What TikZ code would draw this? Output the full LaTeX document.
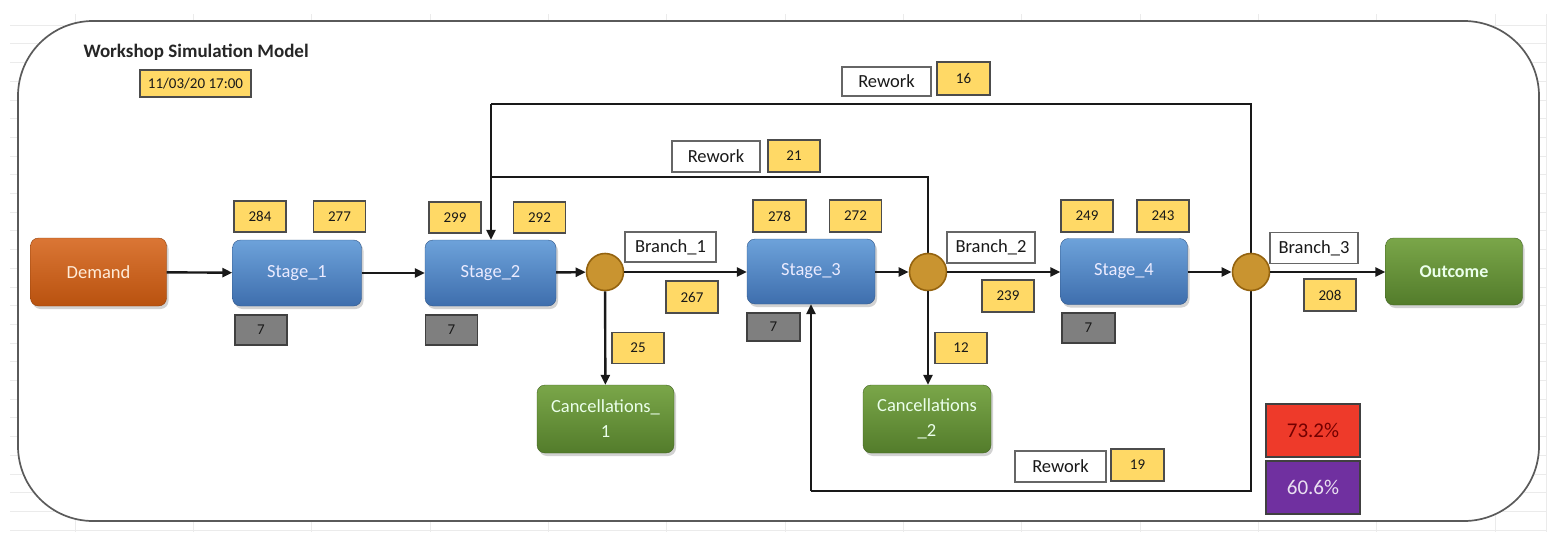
\documentclass[tikz,border=0pt]{standalone}
\usepackage{fontspec}
\setmainfont{Carlito}
\usetikzlibrary{arrows.meta,shadows,positioning}
\definecolor{bluetop}{HTML}{6DA2DA}
\definecolor{bluebot}{HTML}{3E6EAD}
\definecolor{orgtop}{HTML}{DA7635}
\definecolor{orgbot}{HTML}{B9520F}
\definecolor{grntop}{HTML}{7AA649}
\definecolor{grnbot}{HTML}{537C2B}
\definecolor{yel}{HTML}{FFD966}
\definecolor{gry}{HTML}{7F7F7F}
\definecolor{gold}{HTML}{C99430}
\definecolor{goldline}{HTML}{94630F}
\definecolor{redbox}{HTML}{EE3A2A}
\definecolor{purbox}{HTML}{7030A0}
\definecolor{frame}{HTML}{5A5A5A}
\begin{document}
\begin{tikzpicture}[x=1pt,y=-1pt,
  shp/.style={rounded corners=8pt,inner sep=2pt,align=center,
    drop shadow={shadow xshift=2pt,shadow yshift=-3pt,opacity=0.35},
    font=\fontsize{18.5}{20}\selectfont},
  stagebox/.style={shp,top color=bluetop,bottom color=bluebot,draw=bluebot!80!black,line width=0.4pt,
    text=white!92!blue,minimum width=129pt,minimum height=66pt},
  demandbox/.style={shp,top color=orgtop,bottom color=orgbot,draw=orgbot!80!black,line width=0.4pt,
    text=orange!15!white,minimum width=136pt,minimum height=68pt},
  grnbox/.style={shp,top color=grntop,bottom color=grnbot,draw=grnbot!80!black,line width=0.4pt,
    text=green!8!white,minimum height=68pt},
  junc/.style={circle,fill=gold,draw=goldline,line width=1.6pt,minimum size=37pt,inner sep=0pt},
  numbox/.style={rectangle,fill=yel,draw=black!70,line width=1.1pt,minimum width=52pt,minimum height=31pt,
    inner sep=0pt,text=black!90,font=\fontsize{15}{17}\selectfont},
  graybox/.style={rectangle,fill=gry,draw=black!75,line width=1.1pt,minimum width=52pt,minimum height=30pt,
    inner sep=0pt,text=black!90,font=\fontsize{15}{17}\selectfont},
  labbox/.style={rectangle,fill=white,draw=black!60,line width=1.1pt,minimum width=89pt,minimum height=30pt,
    inner sep=0pt,text=black!90,font=\fontsize{18.5}{20}\selectfont},
  pctbox/.style={rectangle,draw=black!75,line width=1.1pt,minimum width=94pt,minimum height=53pt,
    inner sep=0pt,font=\fontsize{21}{23}\selectfont},
  conn/.style={draw=black!90,line width=2.4pt},
  flow/.style={conn,-{Triangle[length=10pt,width=9pt]}}
]
\useasboundingbox (0,0) rectangle (1566,538);
\fill[white] (0,0) rectangle (1566,538);
% faint spreadsheet grid
\begin{scope}
\clip (10,14) rectangle (1547,532);
\foreach \xx in {75,193.3,311.6,430,548.3,666.6,785,903.3,1021.6,1140,1258.3,1376.6,1495,1546}
  \draw[black!8,line width=0.6pt] (\xx,14) -- (\xx,532);
\foreach \k in {0,...,27}
  \draw[black!8,line width=0.6pt] (10,25+18.7*\k) -- (1547,25+18.7*\k);
\end{scope}
% outer frame
\draw[frame,line width=1.7pt,fill=white,rounded corners=75pt] (18,21) rectangle (1539,521);

% title and date
\node[anchor=west,font=\bfseries\fontsize{19}{21}\selectfont,text=black!85] (title) at (80,52) {Workshop Simulation Model};
\node[numbox,minimum width=111pt,minimum height=27pt,font=\fontsize{15}{17}\selectfont] (date) at (195.5,83.5) {11/03/20 17:00};

% main nodes
\node[demandbox] (dem) at (98.5,272) {Demand};
\node[stagebox] (s1) at (297,273) {Stage\_1};
\node[stagebox,minimum width=131pt] (s2) at (490.5,273) {Stage\_2};
\node[stagebox,minimum width=128pt,minimum height=65pt] (s3) at (811,271.5) {Stage\_3};
\node[stagebox,minimum width=127pt] (s4) at (1124,271.5) {Stage\_4};
\node[grnbox,minimum width=137pt,minimum height=67pt,font=\bfseries\fontsize{18}{20}\selectfont] (out) at (1454,271.5) {Outcome};
\node[grnbox,minimum width=137pt,font=\fontsize{18.5}{25}\selectfont] (can1) at (605.5,419) {Cancellations\_\\1};
\node[grnbox,minimum width=128pt,font=\fontsize{18.5}{25}\selectfont] (can2) at (927,419) {Cancellations\\\_2};

% junction positions and loop corners
\coordinate (c1p) at (605,272);
\coordinate (c2p) at (928,272);
\coordinate (c3p) at (1251,272);
\coordinate (topR) at (1251,104);
\coordinate (topL) at (491,104);
\coordinate (midR) at (928,177);
\coordinate (midL) at (491,177);
\coordinate (botR) at (1251,491);
\coordinate (botL) at (811,491);

% loop connectors
\draw[conn] (c3p) -- (topR) -- (topL);
\draw[conn] (c2p) -- (midR) -- (midL);
\draw[flow] (topL) -- (topL |- s2.north);
\draw[conn] (c3p) -- (botR) -- (botL);
\draw[flow] (botL) -- (botL |- s3.south);

% junction nodes
\node[junc] (c1) at (c1p) {};
\node[junc] (c2) at (c2p) {};
\node[junc] (c3) at (c3p) {};

% main flow
\draw[flow] (dem) -- (s1);
\draw[flow] (s1) -- (s2);
\draw[flow] (s2) -- (c1);
\draw[flow] (c1) -- (s3.west |- c1);
\draw[flow] (s3.east |- c2) -- (c2);
\draw[flow] (c2) -- (s4.west |- c2);
\draw[flow] (s4.east |- c3) -- (c3);
\draw[flow] (c3) -- (out.west |- c3);
\draw[flow] (c1) -- (can1);
\draw[flow] (c2) -- (c2 |- can2.north);

% counts
\node[numbox] (n284) at (260,216.5) {284};
\node[numbox] (n277) at (339.5,216.5) {277};
\node[numbox] (n299) at (455,217.5) {299};
\node[numbox] (n292) at (539.5,217.5) {292};
\node[numbox,minimum width=53pt,minimum height=32pt] (n278) at (779.5,216) {278};
\node[numbox,minimum height=32pt] (n272) at (855.5,216) {272};
\node[numbox,minimum height=32pt] (n249) at (1087,216) {249};
\node[numbox,minimum height=32pt] (n243) at (1163,216) {243};
\node[numbox,minimum height=32pt] (n267) at (692,297) {267};
\node[numbox,minimum height=32pt] (n239) at (1008,296) {239};
\node[numbox,minimum height=32pt] (n208) at (1330,295) {208};
\node[numbox] (n25) at (638,348) {25};
\node[numbox] (n12) at (961,348) {12};
\node[numbox,minimum height=32pt] (n21) at (794,156) {21};
\node[numbox,minimum width=53pt,minimum height=33pt] (n16) at (963.5,78.5) {16};
\node[numbox,minimum width=53pt,minimum height=32pt] (n19) at (1137.5,465) {19};

% queue boxes
\node[graybox] (q1) at (261,330) {7};
\node[graybox] (q2) at (451.5,330) {7};
\node[graybox,minimum width=53pt,minimum height=28pt] (q3) at (773.5,327) {7};
\node[graybox,minimum width=53pt] (q4) at (1088.5,328) {7};

% labels
\node[labbox,minimum height=29pt] (rw1) at (886.5,81.5) {Rework};
\node[labbox,minimum width=88pt,minimum height=31pt] (rw2) at (716,156.5) {Rework};
\node[labbox,minimum width=91pt,minimum height=31pt] (rw3) at (1060.5,466.5) {Rework};
\node[labbox,minimum width=91pt] (b1) at (670.5,247) {Branch\_1};
\node[labbox,minimum width=88pt,minimum height=31pt] (b2) at (991,247.5) {Branch\_2};
\node[labbox,minimum width=88pt,minimum height=31pt] (b3) at (1314,248) {Branch\_3};

% percentages
\node[pctbox,fill=redbox,text=red!45!black] (p1) at (1313,430.5) {73.2\%};
\node[pctbox,fill=purbox,text=purbox!15!white] (p2) at (1313,487.5) {60.6\%};
\end{tikzpicture}
\end{document}
